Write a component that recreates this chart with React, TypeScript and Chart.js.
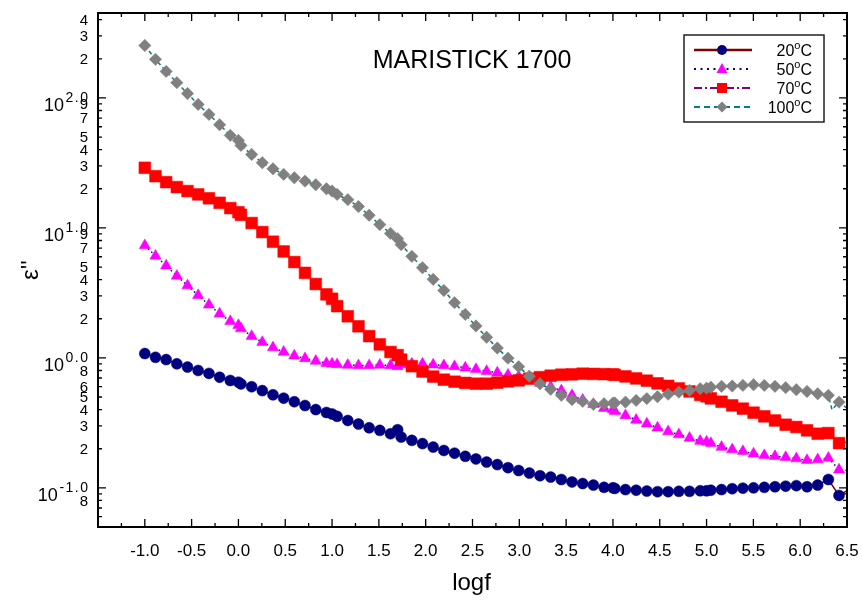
import React, { useEffect, useRef } from "react";
import { Chart, registerables } from "chart.js";

Chart.register(...registerables);

// shared frequency axis (log10 f)
const logf = [
  -1.0, -0.886, -0.772, -0.658, -0.544, -0.43, -0.315, -0.201, -0.087, 0.0,
  0.027, 0.141, 0.255, 0.369, 0.483, 0.597, 0.711, 0.826, 0.94, 1.0,
  1.054, 1.168, 1.282, 1.396, 1.51, 1.624, 1.7, 1.738, 1.852, 1.966,
  2.08, 2.194, 2.308, 2.423, 2.537, 2.651, 2.765, 2.879, 2.993, 3.107,
  3.221, 3.335, 3.449, 3.563, 3.677, 3.791, 3.905, 4.0, 4.02, 4.134,
  4.248, 4.362, 4.476, 4.59, 4.704, 4.818, 4.932, 5.0, 5.046, 5.16,
  5.274, 5.388, 5.502, 5.617, 5.731, 5.845, 5.959, 6.073, 6.187, 6.301,
  6.34, 6.415, 6.53,
];

const eps20 = [
  1.08, 1.01, 0.97, 0.9, 0.85, 0.8, 0.76, 0.71, 0.67, 0.65,
  0.63, 0.6, 0.56, 0.52, 0.49, 0.46, 0.43, 0.4, 0.38, 0.37,
  0.355, 0.33, 0.31, 0.29, 0.277, 0.261, 0.28, 0.246, 0.232, 0.219,
  0.206, 0.194, 0.185, 0.175, 0.167, 0.158, 0.151, 0.143, 0.136, 0.13,
  0.124, 0.121, 0.116, 0.111, 0.108, 0.105, 0.101, 0.1, 0.099, 0.097,
  0.096, 0.0945, 0.0935, 0.0935, 0.094, 0.094, 0.095, 0.095, 0.096, 0.097,
  0.0985, 0.0995, 0.1, 0.101, 0.102, 0.103, 0.104, 0.102, 0.105, 0.116,
  null, 0.0875, 0.098,
];

const eps50 = [
  7.33, 6.09, 5.12, 4.27, 3.6, 3.03, 2.56, 2.19, 1.91, 1.78,
  1.68, 1.47, 1.32, 1.2, 1.11, 1.04, 0.99, 0.945, 0.91, 0.9,
  0.89, 0.88, 0.875, 0.875, 0.883, 0.875, 0.86, 0.89, 0.9, 0.9,
  0.886, 0.875, 0.86, 0.84, 0.816, 0.79, 0.77, 0.74, 0.72, 0.68,
  0.64, 0.6, 0.56, 0.515, 0.475, 0.44, 0.41, 0.4, 0.388, 0.361,
  0.333, 0.312, 0.29, 0.272, 0.257, 0.242, 0.229, 0.226, 0.22, 0.206,
  0.197, 0.191, 0.183, 0.178, 0.175, 0.172, 0.168, 0.163, 0.165, 0.17,
  null, 0.138, 0.136,
];

const eps70 = [
  29.0, 25.0, 22.5, 20.6, 19.2, 18.1, 16.9, 15.6, 14.2, 13.2,
  12.6, 10.9, 9.29, 7.83, 6.59, 5.46, 4.51, 3.7, 3.08, 2.85,
  2.5, 2.09, 1.75, 1.47, 1.27, 1.11, 1.05, 0.97, 0.863, 0.785,
  0.718, 0.68, 0.656, 0.642, 0.633, 0.633, 0.645, 0.66, 0.671, 0.692,
  0.711, 0.73, 0.743, 0.747, 0.756, 0.753, 0.75, 0.747, 0.74, 0.72,
  0.695, 0.668, 0.637, 0.609, 0.582, 0.552, 0.519, 0.506, 0.488, 0.46,
  0.431, 0.407, 0.379, 0.355, 0.33, 0.306, 0.294, 0.277, 0.261, 0.264,
  null, 0.221, 0.225,
];

const eps100 = [
  253, 198, 160, 131, 108, 89.1, 74.7, 62.2, 51.5, 47.1,
  43.1, 36.7, 31.7, 28.5, 25.8, 24.3, 22.9, 21.5, 20.0, 19.2,
  18.1, 16.5, 14.6, 12.5, 10.6, 9.07, 8.26, 7.43, 6.04, 4.94,
  4.02, 3.3, 2.66, 2.16, 1.76, 1.44, 1.19, 0.995, 0.856, 0.723,
  0.633, 0.573, 0.515, 0.477, 0.463, 0.439, 0.444, 0.449, 0.45, 0.457,
  0.471, 0.486, 0.503, 0.526, 0.545, 0.562, 0.58, 0.585, 0.595, 0.604,
  0.607, 0.614, 0.622, 0.614, 0.604, 0.59, 0.569, 0.552, 0.53, 0.515,
  0.4, 0.457, 0.394,
];

// points drawn by the line only (no symbol)
const unmarkedLogf = [6.34, 6.53];

const seriesTemps = ["20", "50", "70", "100"];
const chartTitle = "MARISTICK 1700";
const xTitle = "logf";
const yTitle = "\u03b5''";

const xTickLabels = [
  "-1.0", "-0.5", "0.0", "0.5", "1.0", "1.5", "2.0", "2.5",
  "3.0", "3.5", "4.0", "4.5", "5.0", "5.5", "6.0", "6.5",
];
const yDecadeTicks = [0.1, 1, 10, 100];
const yDecadeSup = ["-1.0", "0.0", "1.0", "2.0"];
const yMinorTicks = [0.08, 0.2, 0.3, 0.4, 0.5, 0.6, 0.8, 2, 3, 4, 5, 7, 9, 20, 30, 40, 50, 70, 90, 200, 300, 400];
const yMinorText = ["8", "2", "3", "4", "5", "6", "8", "2", "3", "4", "5", "7", "9", "2", "3", "4", "5", "7", "9", "2", "3", "4"];

const FONT = '"Liberation Sans", Arial, Helvetica, sans-serif';

const styles = [
  { line: "#800000", dash: [] as number[], marker: "circle", fill: "#000080", r: 5.5, order: 3 },
  { line: "#000080", dash: [1.5, 3], marker: "triangle", fill: "#ff00ff", r: 6.5, order: 2 },
  { line: "#800080", dash: [6, 2, 1.5, 2], marker: "rect", fill: "#ff0000", r: 8.3, order: 1 },
  { line: "#008080", dash: [4, 3], marker: "rectRot", fill: "#808080", r: 6.2, order: 0 },
];

function drawMarker(ctx: CanvasRenderingContext2D, kind: string, x: number, y: number, color: string) {
  ctx.fillStyle = color;
  ctx.beginPath();
  if (kind === "circle") {
    ctx.arc(x, y, 5, 0, Math.PI * 2);
  } else if (kind === "triangle") {
    ctx.moveTo(x, y - 6);
    ctx.lineTo(x + 5.5, y + 4);
    ctx.lineTo(x - 5.5, y + 4);
    ctx.closePath();
  } else if (kind === "rect") {
    ctx.rect(x - 5, y - 5, 10, 10);
  } else {
    ctx.moveTo(x, y - 5.5);
    ctx.lineTo(x + 5.5, y);
    ctx.lineTo(x, y + 5.5);
    ctx.lineTo(x - 5.5, y);
    ctx.closePath();
  }
  ctx.fill();
}

const framePlugin = {
  id: "frame",
  afterDatasetsDraw(chart: any) {
    const { ctx, chartArea: a } = chart;
    const xs = chart.scales.x;
    const ys = chart.scales.y;
    ctx.save();

    // frame
    ctx.strokeStyle = "#000";
    ctx.lineWidth = 2;
    ctx.setLineDash([]);
    ctx.strokeRect(a.left, a.top, a.right - a.left, a.bottom - a.top);

    // ticks
    ctx.lineWidth = 1.3;
    ctx.beginPath();
    xTickLabels.forEach((t) => {
      const v = parseFloat(t);
      const pairs: [number, number][] = [[v, 8], [v - 0.25, 4]];
      for (const [val, len] of pairs) {
        const px = xs.getPixelForValue(val);
        ctx.moveTo(px, a.bottom);
        ctx.lineTo(px, a.bottom - len);
        ctx.moveTo(px, a.top);
        ctx.lineTo(px, a.top + len);
      }
    });
    for (let d = -2; d <= 2; d++) {
      for (let m = 1; m <= 9; m++) {
        const v = m * Math.pow(10, d);
        if (v < ys.min || v > ys.max) continue;
        const py = ys.getPixelForValue(v);
        const len = m === 1 ? 8 : 4;
        ctx.moveTo(a.left, py);
        ctx.lineTo(a.left + len, py);
        ctx.moveTo(a.right, py);
        ctx.lineTo(a.right - len, py);
      }
    }
    ctx.stroke();

    ctx.fillStyle = "#000";
    // x tick labels
    ctx.font = `17px ${FONT}`;
    ctx.textAlign = "center";
    ctx.textBaseline = "alphabetic";
    xTickLabels.forEach((t) => {
      ctx.fillText(t, xs.getPixelForValue(parseFloat(t)), 555.5);
    });

    // y minor labels
    const labelRight = a.left - 10;
    ctx.font = `15px ${FONT}`;
    ctx.textAlign = "right";
    ctx.textBaseline = "middle";
    yMinorTicks.forEach((v, i) => {
      ctx.fillText(yMinorText[i], labelRight, ys.getPixelForValue(v) + 1);
    });

    // y decade labels 10^k
    ctx.textBaseline = "alphabetic";
    yDecadeTicks.forEach((v, i) => {
      const py = ys.getPixelForValue(v);
      ctx.font = `14px ${FONT}`;
      (ctx as any).letterSpacing = "1.5px";
      const sw = ctx.measureText(yDecadeSup[i]).width;
      ctx.textAlign = "left";
      ctx.fillText(yDecadeSup[i], labelRight - sw + 1.5, py + 4);
      (ctx as any).letterSpacing = "0px";
      ctx.font = `18px ${FONT}`;
      ctx.textAlign = "right";
      ctx.fillText("10", labelRight - sw, py + 13.5);
    });

    // axis titles
    ctx.font = `24px ${FONT}`;
    ctx.textAlign = "center";
    ctx.fillText(xTitle, (a.left + a.right) / 2 - 1, 590);
    ctx.save();
    ctx.translate(38, 270);
    ctx.rotate(-Math.PI / 2);
    ctx.font = `24px ${FONT}`;
    ctx.fillText(yTitle, 0, 0);
    ctx.restore();

    // chart title
    ctx.font = `25px ${FONT}`;
    ctx.textAlign = "center";
    ctx.fillText(chartTitle, 472, 68);

    // legend
    const bx = 684, by = 35, bw = 140, bh = 87;
    ctx.fillStyle = "#fff";
    ctx.fillRect(bx, by, bw, bh);
    ctx.strokeStyle = "#222";
    ctx.lineWidth = 1.5;
    ctx.strokeRect(bx, by, bw, bh);
    seriesTemps.forEach((t, i) => {
      const s = styles[i];
      const y = 50 + i * 19;
      ctx.strokeStyle = s.line;
      ctx.lineWidth = i === 0 ? 2.5 : 2;
      ctx.setLineDash(i === 0 ? [] : i === 1 ? [2, 4.5] : i === 2 ? [8, 3, 2, 3] : [6, 4]);
      ctx.beginPath();
      ctx.moveTo(694, y);
      ctx.lineTo(752, y);
      ctx.stroke();
      ctx.setLineDash([]);
      drawMarker(ctx, s.marker, 722, y, s.fill);
      // label "T°C" with raised o
      ctx.fillStyle = "#000";
      ctx.textAlign = "left";
      ctx.font = `16px ${FONT}`;
      const wC = ctx.measureText("C").width;
      const wN = ctx.measureText(t).width;
      ctx.font = `11px ${FONT}`;
      const wo = ctx.measureText("o").width;
      const right = 812;
      const xC = right - wC;
      const xo = xC - wo;
      const xN = xo - wN;
      ctx.font = `16px ${FONT}`;
      ctx.fillText(t, xN, y + 6);
      ctx.fillText("C", xC, y + 6);
      ctx.font = `11px ${FONT}`;
      ctx.fillText("o", xo, y - 1);
    });

    ctx.restore();
  },
};

export default function App() {
  const ref = useRef<HTMLCanvasElement>(null);

  useEffect(() => {
    const canvas = ref.current;
    if (!canvas) return;
    const series = [eps20, eps50, eps70, eps100];
    const datasets = series.map((arr, i) => {
      const s = styles[i];
      return {
        label: `${seriesTemps[i]}°C`,
        data: logf.map((x, j) => ({ x, y: arr[j] })),
        borderColor: s.line,
        borderWidth: 1.5,
        borderDash: s.dash,
        pointStyle: s.marker,
        pointRadius: logf.map((x) => (unmarkedLogf.includes(x) ? 0 : s.r)),
        pointBackgroundColor: s.fill,
        pointBorderColor: s.fill,
        pointBorderWidth: 0.5,
        spanGaps: true,
        tension: 0,
        fill: false,
        order: s.order,
      };
    });

    const chart = new Chart(canvas, {
      type: "line",
      data: { datasets },
      options: {
        responsive: false,
        animation: false,
        devicePixelRatio: 1,
        events: [],
        layout: { padding: { left: 98, top: 13, right: 15, bottom: 77 } },
        plugins: {
          legend: { display: false },
          tooltip: { enabled: false },
          title: { display: false },
        },
        scales: {
          x: { type: "linear", min: -1.5, max: 6.5, display: false },
          y: { type: "logarithmic", min: 0.05, max: 450, display: false },
        },
      },
      plugins: [framePlugin],
    } as any);

    return () => chart.destroy();
  }, []);

  return (
    <div style={{ position: "absolute", left: 0, top: 0, width: 862, height: 604, background: "#fff" }}>
      <canvas ref={ref} width={862} height={604} style={{ display: "block", width: 862, height: 604 }} />
    </div>
  );
}
